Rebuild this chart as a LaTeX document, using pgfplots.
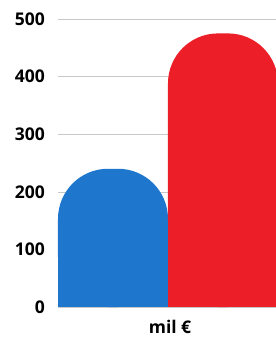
\documentclass[border=0pt]{standalone}
\usepackage{pgfplots}
\pgfplotsset{compat=1.18}
\usepackage{fontspec}
\setmainfont{Open Sans}
\definecolor{barblue}{RGB}{31,119,205}
\definecolor{barred}{RGB}{236,30,40}
\definecolor{gridgray}{RGB}{200,200,200}
\begin{document}
\begin{tikzpicture}
\begin{axis}[
  scale only axis,
  width=218pt, height=307pt,
  xmin=-0.5, xmax=1.482,
  ymin=0, ymax=533,
  ytick={0,100,200,300,400,500},
  xtick=\empty,
  axis line style={draw=none},
  ymajorgrids,
  grid style={gridgray, line width=0.6pt},
  major tick length=0pt,
  yticklabel style={font=\fontsize{17.5}{20}\selectfont\bfseries, anchor=east, inner sep=0pt, xshift=-13pt},
  /pgf/number format/assume math mode=true,
  xlabel={mil €},
  every axis x label/.style={at={(rel axis cs:0.514,0)}, anchor=base, yshift=-26pt, font=\fontsize{17.5}{20}\selectfont\bfseries, inner sep=0pt},
  ybar, bar width=1, bar shift=0pt,
  clip=true,
]
% rounded bars (all four corners rounded)
\addplot[fill=barblue, draw=none, rounded corners=50pt, bar shift=0pt] coordinates {(0,240)};
\addplot[fill=barred, draw=none, rounded corners=50pt, bar shift=0pt] coordinates {(1,475)};
% the same bars, square and lowered by the corner height, to square off the feet
\addplot[fill=barblue, draw=none, bar shift=0pt, y filter/.expression={y-90}] coordinates {(0,240)};
\addplot[fill=barred, draw=none, bar shift=0pt, y filter/.expression={y-90}] coordinates {(1,475)};
\end{axis}
\pgfresetboundingbox
\path (current axis.south west) ++(-58pt,-31pt) rectangle (current axis.north east);
\end{tikzpicture}
\end{document}
